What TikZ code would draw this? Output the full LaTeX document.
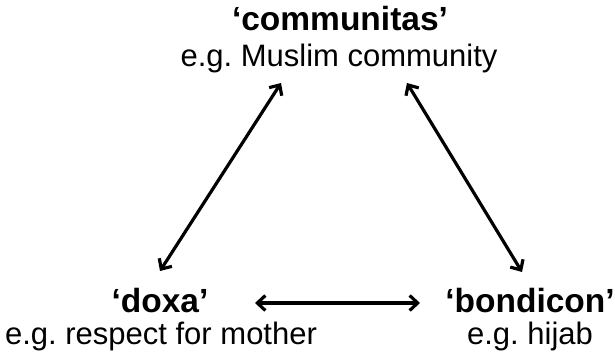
\documentclass[tikz,border=0pt]{standalone}
\usepackage{fontspec}
\setmainfont{Liberation Sans}
\usetikzlibrary{arrows.meta}
\frenchspacing
\tikzset{
  title/.style={anchor=base,inner sep=0pt,font=\fontsize{33.5}{38}\selectfont\bfseries},
  example/.style={anchor=base,inner sep=0pt,font=\fontsize{31}{35}\selectfont},
  link/.style={line width=3.2pt,{Straight Barb[length=8pt,width=15pt]}-{Straight Barb[length=8pt,width=15pt]}}
}
\begin{document}
\begin{tikzpicture}[x=1pt,y=-1pt]
\useasboundingbox (0,0) rectangle (615,358);
\node[title] (comm) at (340,31) {‘communitas’};
\node[example] (commex) at (339,67) {e.g. Muslim community};
\node[title] (doxa) at (160,312) {‘doxa’};
\node[example] (doxaex) at (161,344) {e.g. respect for mother};
\node[title] (bond) at (530,312) {‘bondicon’};
\node[example] (bondex) at (530,344) {e.g. hijab};
\coordinate (a1) at (281,83);
\coordinate (a2) at (160,271);
\coordinate (b1) at (407,83);
\coordinate (b2) at (522,272);
\coordinate (c1) at (255,303);
\coordinate (c2) at (420,303);
\draw[link] (a1) -- (a2);
\draw[link] (b1) -- (b2);
\draw[link] (c1) -- (c2);
\end{tikzpicture}
\end{document}
